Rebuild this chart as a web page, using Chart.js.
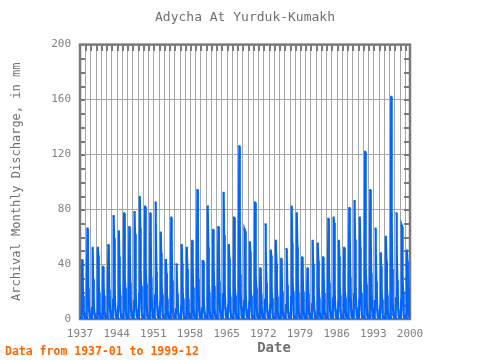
<!DOCTYPE html>
<html><head><meta charset="utf-8">
<script src="https://cdn.jsdelivr.net/npm/chart.js@4"></script>
<style>html,body{margin:0;padding:0;background:#fff}</style>
</head><body>
<canvas id="c" width="480" height="360"></canvas>
<script>
const titleText = 'Adycha At Yurduk-Kumakh';
const yTitle = 'Archival Monthly Discharge, in mm';
const xTitle = 'Date';
const footnote = 'Data from 1937-01 to 1999-12';
const startYear = 1937;
const xTickLabels = [1937,1944,1951,1958,1965,1972,1979,1986,1993,2000];
const yTickLabels = [0,40,80,120,160,200];

// monthly discharge (Jan..Dec), one row per year
const discharge1937_1946 = [
[1.2,0.8,0.6,0.5,6,43,31,17,14,5,2,1.4],
[1.1,0.8,0.6,0.6,12,66,57,22,15,6,2.2,1.5],
[1.2,0.9,0.7,0.6,8,52,29,27,12,4,2,1.3],
[1.0,0.8,0.6,0.5,5,52,46,24,19,5,2.1,1.4],
[1.1,0.8,0.6,0.5,7,38,25,17,12,4,1.8,1.2],
[0.9,0.7,0.5,0.5,10,54,48,21,16,6,2.3,1.4],
[1.2,0.9,0.7,0.6,14,75,59,27,20,7,2.5,1.6],
[1.3,1.0,0.8,0.6,9,64,45,24,17,6,2.2,1.5],
[1.2,0.9,0.7,0.6,16,77,60,30,22,8,2.6,1.6],
[1.3,1.0,0.8,0.7,11,67,50,26,19,6,2.4,1.5]
];
const discharge1947_1956 = [
[1.2,0.9,0.7,0.6,13,78,62,31,21,7,2.5,1.6],
[1.4,1.0,0.8,0.7,18,89,66,33,24,8,2.8,1.7],
[1.3,1.0,0.8,0.7,20,82,73,35,25,9,2.7,1.7],
[1.4,1.1,0.9,0.7,15,77,62,30,22,8,2.6,1.6],
[1.3,1.0,0.8,0.7,17,85,68,34,26,9,2.9,1.8],
[1.4,1.1,0.9,0.7,12,63,48,25,18,6,2.4,1.5],
[1.2,0.9,0.7,0.6,8,43,33,19,14,5,2.0,1.3],
[1.1,0.9,0.7,0.6,14,74,55,28,20,7,2.4,1.5],
[1.2,0.9,0.7,0.6,7,40,34,18,13,4,1.9,1.3],
[1.1,0.8,0.6,0.5,9,54,40,22,15,5,2.1,1.4]
];
const discharge1957_1966 = [
[1.2,0.9,0.7,0.6,8,52,36,20,14,5,2.0,1.3],
[1.1,0.9,0.7,0.6,10,57,42,23,16,6,2.2,1.4],
[1.2,0.9,0.7,0.6,30,94,62,29,20,7,2.6,1.6],
[1.3,1.0,0.8,0.6,8,42,42,26,13,5,2.0,1.3],
[1.1,0.9,0.7,0.6,15,82,52,28,19,7,2.5,1.5],
[1.2,0.9,0.7,0.6,12,65,41,24,16,6,2.3,1.4],
[1.2,0.9,0.7,0.6,13,67,61,27,18,6,2.4,1.5],
[1.3,1.0,0.8,0.7,18,92,61,32,23,8,2.7,1.7],
[1.3,1.0,0.8,0.7,10,54,44,22,16,6,2.2,1.4],
[1.2,0.9,0.7,0.6,14,74,30,24,17,6,2.3,1.4]
];
const discharge1967_1976 = [
[1.3,1.0,0.8,0.7,25,126,70,32,24,9,3.0,1.8],
[1.4,1.1,0.9,0.7,13,65,64,30,20,7,2.5,1.6],
[1.3,1.0,0.8,0.7,12,56,49,25,17,6,2.3,1.5],
[1.3,1.0,0.8,0.7,17,85,55,30,22,8,2.7,1.6],
[1.3,1.0,0.8,0.6,8,37,30,18,12,4,1.9,1.3],
[1.2,0.9,0.7,0.6,14,69,48,26,18,6,2.4,1.5],
[1.2,0.9,0.7,0.6,10,50,46,22,15,5,2.1,1.4],
[1.2,0.9,0.7,0.6,11,57,40,23,16,6,2.2,1.4],
[1.2,0.9,0.7,0.6,9,44,36,20,14,5,2.0,1.3],
[1.1,0.9,0.7,0.6,10,51,49,24,15,5,2.1,1.4]
];
const discharge1977_1986 = [
[1.2,0.9,0.7,0.6,16,82,55,29,20,7,2.5,1.5],
[1.3,1.0,0.8,0.7,15,77,52,28,19,7,2.5,1.5],
[1.2,0.9,0.7,0.6,9,45,38,20,14,5,2.0,1.3],
[1.1,0.8,0.6,0.5,8,37,31,18,12,4,1.8,1.2],
[1.1,0.9,0.7,0.6,11,57,40,23,16,6,2.2,1.4],
[1.2,0.9,0.7,0.6,11,55,42,22,15,5,2.2,1.4],
[1.2,0.9,0.7,0.6,9,45,37,19,13,5,2.0,1.3],
[1.1,0.9,0.7,0.6,14,73,45,26,18,6,2.4,1.5],
[1.2,0.9,0.7,0.6,15,74,70,30,20,7,2.5,1.5],
[1.3,1.0,0.8,0.6,12,57,45,24,17,6,2.3,1.4]
];
const discharge1987_1999 = [
[1.2,0.9,0.7,0.6,10,52,38,22,15,5,2.1,1.4],
[1.2,0.9,0.7,0.6,16,81,62,30,21,7,2.6,1.6],
[1.3,1.0,0.8,0.7,18,86,58,31,22,8,2.7,1.6],
[1.3,1.0,0.8,0.7,14,74,52,27,19,7,2.5,1.5],
[1.3,1.0,0.8,0.7,24,122,74,35,25,9,3.0,1.8],
[1.4,1.1,0.9,0.7,19,94,60,33,24,8,2.8,1.7],
[1.3,1.0,0.8,0.7,13,66,50,27,19,7,2.4,1.5],
[1.2,0.9,0.7,0.6,9,48,38,21,14,5,2.1,1.3],
[1.2,0.9,0.7,0.6,12,60,42,24,17,6,2.3,1.4],
[1.3,1.0,0.8,0.7,40,162,76,36,26,10,3.1,1.9],
[1.4,1.1,0.9,0.7,15,77,52,28,20,7,2.5,1.6],
[1.3,1.0,0.8,0.7,14,68,67,30,20,7,2.5,1.5],
[1.3,1.0,0.8,0.7,10,50,42,32,22,6,2.3,1.5]
];

const allYears = [].concat(discharge1937_1946, discharge1947_1956, discharge1957_1966,
  discharge1967_1976, discharge1977_1986, discharge1987_1999);
const points = [];
allYears.forEach((row, i) => {
  row.forEach((v, m) => points.push({x: startYear + i + m / 12, y: v}));
});

const MONO = '"DejaVu Sans Mono", "Liberation Mono", monospace';
const GREY = '#808080';

const frameTicks = {
  id: 'frameTicks',
  beforeDatasetsDraw(chart) {
    const {ctx, chartArea: a, scales: {x, y}} = chart;
    ctx.save();
    ctx.fillStyle = '#a6a6a6';
    const t = Math.round(a.top), b = Math.round(a.bottom);
    for (let yr = 1938; yr < 2000; yr++) {
      const px = Math.round(x.getPixelForValue(yr));
      ctx.fillRect(px, t, 1, b - t);
    }
    ctx.fillStyle = '#7a7a7a';
    for (let yr = 1938; yr < 2000; yr++) {
      const px = Math.round(x.getPixelForValue(yr));
      ctx.fillRect(px, t, 2, 6);
      ctx.fillRect(px, b - 6, 2, 6);
    }
    const l = Math.round(a.left), r = Math.round(a.right);
    for (let v = 10; v < 200; v += 10) {
      const py = Math.round(y.getPixelForValue(v));
      ctx.fillRect(l, py, 5, 2);
      ctx.fillRect(r - 6, py, 6, 2);
    }
    ctx.strokeStyle = '#7a7a7a';
    ctx.lineWidth = 2.5;
    ctx.strokeRect(a.left, a.top, a.right - a.left, a.bottom - a.top);
    ctx.restore();
  },
  afterDraw(chart) {
    const ctx = chart.ctx;
    ctx.save();
    ctx.textBaseline = 'middle';
    ctx.textAlign = 'center';
    ctx.font = 'bold 14px ' + MONO;
    ctx.fillStyle = '#707070';
    ctx.fillText(xTitle, 274, 348);
    ctx.textAlign = 'left';
    ctx.font = 'bold 11.5px ' + MONO;
    ctx.fillStyle = '#ff6600';
    ctx.fillText(footnote, 5, 352);
    ctx.restore();
  }
};

new Chart(document.getElementById('c'), {
  type: 'line',
  data: {
    datasets: [{
      data: points,
      borderColor: '#0064ff',
      backgroundColor: '#0064ff',
      borderWidth: 2.2,
      pointRadius: 1.4,
      pointStyle: 'rect',
      pointBorderWidth: 0,
      tension: 0,
      fill: false
    }]
  },
  options: {
    responsive: false,
    devicePixelRatio: 1,
    animation: false,
    layout: {padding: {left: 0, right: 70, top: 0, bottom: 0}},
    plugins: {
      legend: {display: false},
      tooltip: {enabled: false},
      title: {
        display: true, text: titleText, fullSize: false,
        color: '#707070', font: {family: MONO, size: 13, weight: 'normal'},
        padding: {top: 10, bottom: 19}
      }
    },
    scales: {
      x: {
        type: 'linear', min: 1937, max: 2000,
        afterFit: s => { s.height = 41; },
        border: {display: false},
        grid: {display: false, drawTicks: false},
        ticks: {
          stepSize: 7, autoSkip: false, maxRotation: 0, minRotation: 0,
          padding: 9, color: GREY, font: {family: MONO, size: 11},
          callback: v => xTickLabels.includes(Math.round(v)) ? String(Math.round(v)) : ''
        }
      },
      y: {
        min: 0, max: 200,
        afterFit: s => { s.width = 80; },
        border: {display: false},
        grid: {
          drawTicks: false, lineWidth: 1,
          color: c => (c.tick && c.tick.value % 40 === 0 && c.tick.value > 0 && c.tick.value < 200) ? '#a6a6a6' : 'rgba(0,0,0,0)'
        },
        ticks: {
          stepSize: 10, autoSkip: false, padding: 9, color: GREY,
          font: {family: MONO, size: 11},
          callback: v => yTickLabels.includes(v) ? String(v) : ''
        },
        title: {
          display: true, text: yTitle, color: '#707070',
          font: {family: MONO, size: 12}, padding: {top: 10, bottom: 0}
        }
      }
    }
  },
  plugins: [frameTicks]
});
</script>
</body></html>
